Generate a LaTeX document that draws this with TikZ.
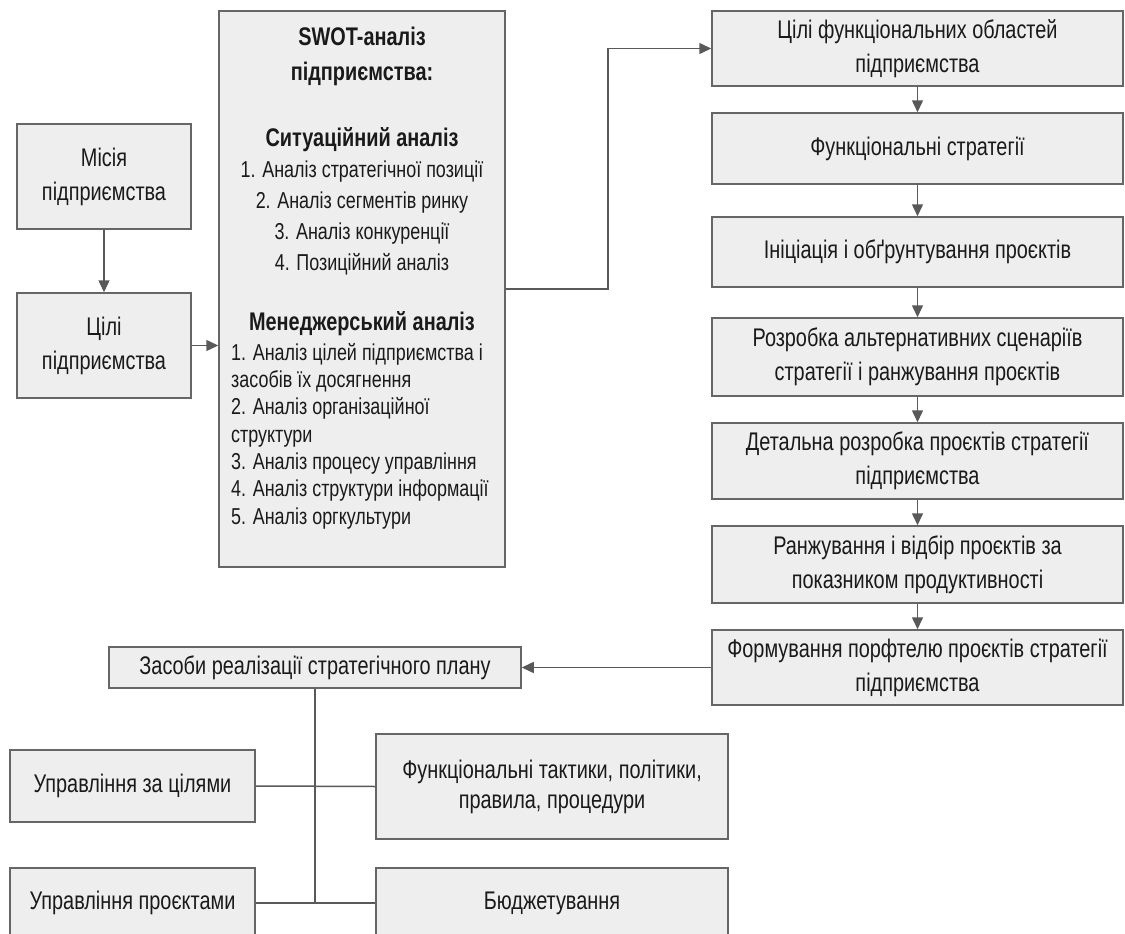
\documentclass[tikz,border=0pt]{standalone}
\usepackage{fontspec}
\setmainfont{Liberation Sans}[FakeStretch=0.78]
\usetikzlibrary{arrows.meta}
\definecolor{boxfill}{HTML}{EEEEEE}
\definecolor{boxline}{HTML}{666666}
\definecolor{conn}{HTML}{595959}
\definecolor{txt}{HTML}{1A1A1A}
\begin{document}
\begin{tikzpicture}[x=1pt,y=-1pt,
  box/.style={draw=boxline, fill=boxfill, line width=1.5pt, inner sep=0pt,
    align=center, text=txt, font=\fontsize{25.5}{34}\selectfont},
  lbl/.style={inner sep=0pt, text=txt},
  arr/.style={draw=conn, line width=1.5pt, -{Triangle[length=12pt,width=11pt]}},
  link/.style={draw=conn, line width=1.5pt}]
\clip (0,0) rectangle (1125,934);
\fill[white] (0,0) rectangle (1125,934);

% left column
\node[box, minimum width=174pt, minimum height=105pt] (mis) at (104,176.5) {Місія\\підприємства};
\node[box, minimum width=174pt, minimum height=105pt] (cil) at (104,345.5) {Цілі\\підприємства};

% SWOT box
\node[box, minimum width=286pt, minimum height=556pt] (swot) at (362,289) {};
\node[lbl, align=center, font=\bfseries\fontsize{25.5}{35}\selectfont] (swh) at (362,56) {SWOT-аналіз\\підприємства:};
\node[lbl, align=center, font=\fontsize{23}{31}\selectfont] (sit) at (362,201) {{\bfseries\fontsize{25.5}{31}\selectfont Ситуаційний аналіз}\\1. Аналіз стратегічної позиції\\2. Аналіз сегментів ринку\\3. Аналіз конкуренції\\4. Позиційний аналіз};
\node[lbl, font=\bfseries\fontsize{25.5}{27}\selectfont] (mgh) at (362,324) {Менеджерський аналіз};
\node[lbl, align=left, anchor=west, font=\fontsize{23}{27.3}\selectfont] (mgl) at (231,436) {1. Аналіз цілей підприємства і\\засобів їх досягнення\\2. Аналіз організаційної\\структури\\3. Аналіз процесу управління\\4. Аналіз структури інформації\\5. Аналіз оргкультури};

% right column
\node[box, minimum width=411pt, minimum height=75pt] (r1) at (917.5,48.5) {Цілі функціональних областей\\підприємства};
\node[box, minimum width=411pt, minimum height=71pt] (r2) at (917.5,148.5) {Функціональні стратегії};
\node[box, minimum width=411pt, minimum height=70pt] (r3) at (917.5,252) {Ініціація і обґрунтування проєктів};
\node[box, minimum width=411pt, minimum height=78pt] (r4) at (917.5,357) {Розробка альтернативних сценаріїв\\стратегії і ранжування проєктів};
\node[box, minimum width=411pt, minimum height=76pt] (r5) at (917.5,461) {Детальна розробка проєктів стратегії\\підприємства};
\node[box, minimum width=411pt, minimum height=77pt] (r6) at (917.5,564.5) {Ранжування і відбір проєктів за\\показником продуктивності};
\node[box, minimum width=411pt, minimum height=75pt] (r7) at (917.5,667.5) {Формування порфтелю проєктів стратегії\\підприємства};

% bottom part
\node[box, minimum width=412pt, minimum height=41pt] (zas) at (315,667.5) {Засоби реалізації стратегічного плану};
\node[box, minimum width=245pt, minimum height=72pt] (up1) at (132.5,786) {Управління за цілями};
\node[box, minimum width=352pt, minimum height=105pt, font=\fontsize{25.5}{30}\selectfont] (ft) at (552,786.5) {Функціональні тактики, політики,\\правила, процедури};
\node[box, minimum width=245pt, minimum height=70pt] (up2) at (132.5,903) {Управління проєктами};
\node[box, minimum width=352pt, minimum height=70pt] (bud) at (552,903) {Бюджетування};

% connectors
\draw[arr] (mis) -- (cil);
\draw[arr] (cil.east) -- (cil.east -| swot.west);
\coordinate (k1) at (608,289);
\draw[arr] (swot.east |- k1) -- (k1) |- (r1.west);
\draw[arr] (r1) -- (r2);
\draw[arr] (r2) -- (r3);
\draw[arr] (r3) -- (r4);
\draw[arr] (r4) -- (r5);
\draw[arr] (r5) -- (r6);
\draw[arr] (r6) -- (r7);
\draw[arr] (r7.west) -- (zas.east);
\draw[link] (zas.south) -- (zas.south |- up2.east);
\draw[link] (up1.east) -- (ft.west);
\draw[link] (up2.east) -- (bud.west);
\end{tikzpicture}
\end{document}
